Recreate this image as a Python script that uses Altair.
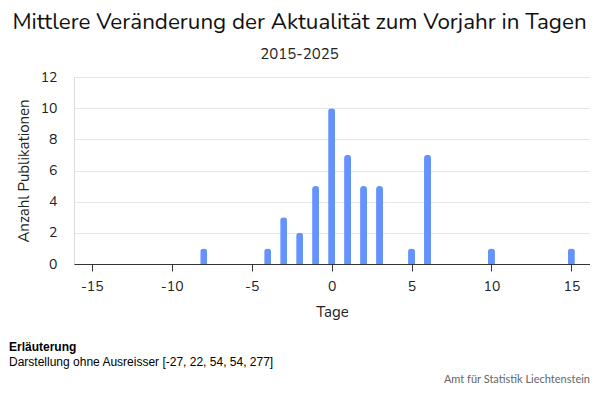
import altair as alt
import pandas as pd

tage = [-8, -4, -3, -2, -1, 0, 1, 2, 3, 5, 6, 10, 15]
anzahl = [1, 1, 3, 2, 5, 10, 7, 5, 5, 1, 7, 1, 1]
x_ticks = [-15, -10, -5, 0, 5, 10, 15]
y_ticks = [0, 2, 4, 6, 8, 10, 12]

title_text = "Mittlere Veränderung der Aktualität zum Vorjahr in Tagen"
subtitle_text = "2015-2025"
note_head = "Erläuterung"
note_body = "Darstellung ohne Ausreisser [-27, 22, 54, 54, 277]"
source_text = "Amt für Statistik Liechtenstein"

df = pd.DataFrame({"Tage": tage, "Anzahl": anzahl})

FONT = "Nunito, Lato, Open Sans, sans-serif"

bars = alt.Chart(df).mark_bar(
    color="#6592FD", size=7, cornerRadiusTopLeft=3, cornerRadiusTopRight=3
).encode(
    x=alt.X("Tage:Q", title="Tage",
            scale=alt.Scale(domain=[-15.8, 15.85], nice=False, zero=False),
            axis=alt.Axis(values=x_ticks, grid=False, domainColor="#333333",
                          tickColor="#333333", tickSize=7, labelPadding=8,
                          labelFontSize=14, titleFontSize=15, titleFontWeight="normal",
                          labelColor="#222222", titleColor="#222222", titlePadding=11,
                          labelFont=FONT, titleFont=FONT, labelFlush=False,
                          labelExpr="datum.value + ''")),
    y=alt.Y("Anzahl:Q", title="Anzahl Publikationen",
            scale=alt.Scale(domain=[0, 12], nice=False),
            axis=alt.Axis(values=y_ticks, domain=False, ticks=False, gridColor="#e6e6e6",
                          labelPadding=17, labelFontSize=14, titleFontSize=15,
                          titleFontWeight="normal", labelColor="#222222",
                          titleColor="#222222", titlePadding=9,
                          labelFont=FONT, titleFont=FONT)),
)

note1 = alt.Chart(pd.DataFrame({"t": [note_head]})).mark_text(
    align="left", baseline="middle", font="Liberation Sans", fontSize=12,
    fontWeight="bold", color="#000000"
).encode(text="t:N", x=alt.value(-65), y=alt.value(270))
note2 = alt.Chart(pd.DataFrame({"t": [note_body]})).mark_text(
    align="left", baseline="middle", font="Liberation Sans", fontSize=12,
    color="#000000"
).encode(text="t:N", x=alt.value(-65), y=alt.value(285))
src = alt.Chart(pd.DataFrame({"t": [source_text]})).mark_text(
    align="right", baseline="middle", font="Lato", fontSize=11,
    color="#666666"
).encode(text="t:N", x=alt.value(516), y=alt.value(303))

chart = alt.layer(bars, note1, note2, src).properties(
    width=516, height=187,
    title=alt.TitleParams(text=title_text, subtitle=subtitle_text, font=FONT,
                          fontSize=22.4, fontWeight="normal", color="#111111",
                          subtitleFont=FONT, subtitleFontSize=15,
                          subtitleColor="#222222", subtitlePadding=14,
                          anchor="middle", frame="bounds", offset=8),
).configure_view(stroke=None).configure(padding={"left": 1, "top": 2, "right": 0, "bottom": 0})

chart.save("out.html", embed_options={"renderer": "svg", "actions": False})
